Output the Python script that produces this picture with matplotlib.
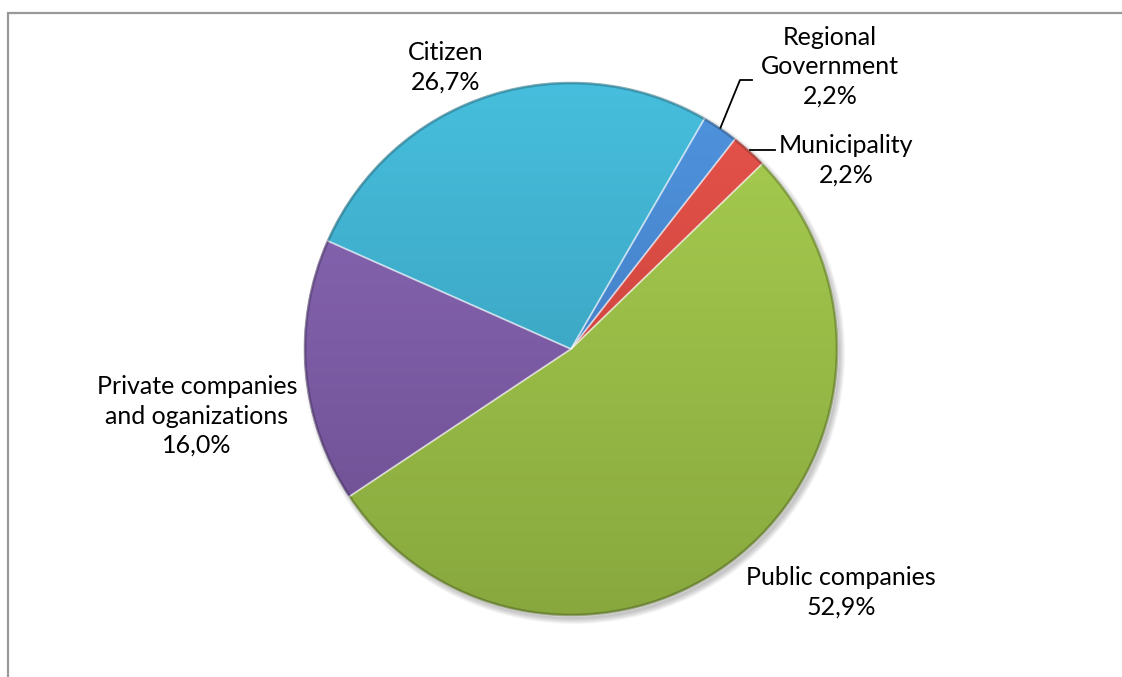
import numpy as np
import matplotlib.pyplot as plt
from matplotlib.colors import LinearSegmentedColormap
from matplotlib.patches import Wedge, Circle

# slice order runs clockwise starting at the Municipality slice
labels = ['Municipality', 'Public companies', 'Private companies\nand oganizations',
          'Citizen', 'Regional\nGovernment']
shares = [2.2, 52.9, 16.0, 26.7, 2.2]
top_colors = ['#E8544C', '#A8CE50', '#8C6AB8', '#47BEDD', '#5094DE']
bottom_colors = ['#B83A33', '#88A83E', '#6B4D8F', '#3394B0', '#3A72B6']

W, H = 1122, 677
fig = plt.figure(figsize=(W / 100, H / 100), dpi=100)
ax = fig.add_axes([0, 0, 1, 1])

cx, cy, r = 571, 328, 267

# soft drop shadow
for k in range(6):
    ax.add_patch(Circle((cx + 3, cy - 4), r + 4 - k, color='#000000', alpha=0.04, lw=0))

wedges, _ = ax.pie(shares, startangle=52, counterclock=False, center=(cx, cy),
                   radius=r, colors=top_colors, frame=True,
                   wedgeprops=dict(edgecolor='none', linewidth=0))

# vertical gradient inside each slice, light rim along the cut edges
grad = np.linspace(0, 1, 256).reshape(-1, 1)
for w, c1, c2 in zip(wedges, top_colors, bottom_colors):
    cmap = LinearSegmentedColormap.from_list('g', [c2, c1])
    im = ax.imshow(grad, cmap=cmap, origin='lower', aspect='auto',
                   extent=(cx - r, cx + r, cy - r, cy + r), zorder=w.get_zorder() + 0.1)
    im.set_clip_path(w)
    ax.add_patch(Wedge(w.center, w.r, w.theta1, w.theta2, fill=False,
                       edgecolor=(1, 1, 1, 0.45), lw=1.2, zorder=w.get_zorder() + 0.2))

# darker bevel on the outer rim
ax.add_patch(Circle((cx, cy), r - 1, fill=False, edgecolor=(0, 0, 0, 0.22), lw=2.0,
                    zorder=wedges[0].get_zorder() + 0.3))

ax.set_xlim(0, W)
ax.set_ylim(0, H)
ax.set_aspect('auto')
ax.axis('off')


def fmt(name, v):
    return f"{name}\n{v:.1f}%".replace('.', ',')


def rim_point(w):
    mid = np.deg2rad((w.theta1 + w.theta2) / 2)
    return cx + r * np.cos(mid), cy + r * np.sin(mid)


text_pos = [(846, 517), (841, 85), (197, 261), (446, 610), (830, 610)]
font = dict(fontsize=18, family='Lato', color='#000000', ha='center', va='center',
            linespacing=1.33)
for name, v, (tx, ty) in zip(labels, shares, text_pos):
    ax.text(tx, ty, fmt(name, v), **font)

# leader lines for the two thin slices
mx, my = rim_point(wedges[0])
ax.plot([mx, 775], [my, my], color='#000000', lw=1.3)
gx, gy = rim_point(wedges[4])
ax.plot([gx, 740, 752], [gy, 597, 597], color='#000000', lw=1.3)

# chart area border (top and left edges)
ax.plot([8.5, 8.5, W], [0, H - 12.5, H - 12.5], color='#999999', lw=1.6,
        solid_joinstyle='miter')

fig.savefig('out.png', dpi=100)
